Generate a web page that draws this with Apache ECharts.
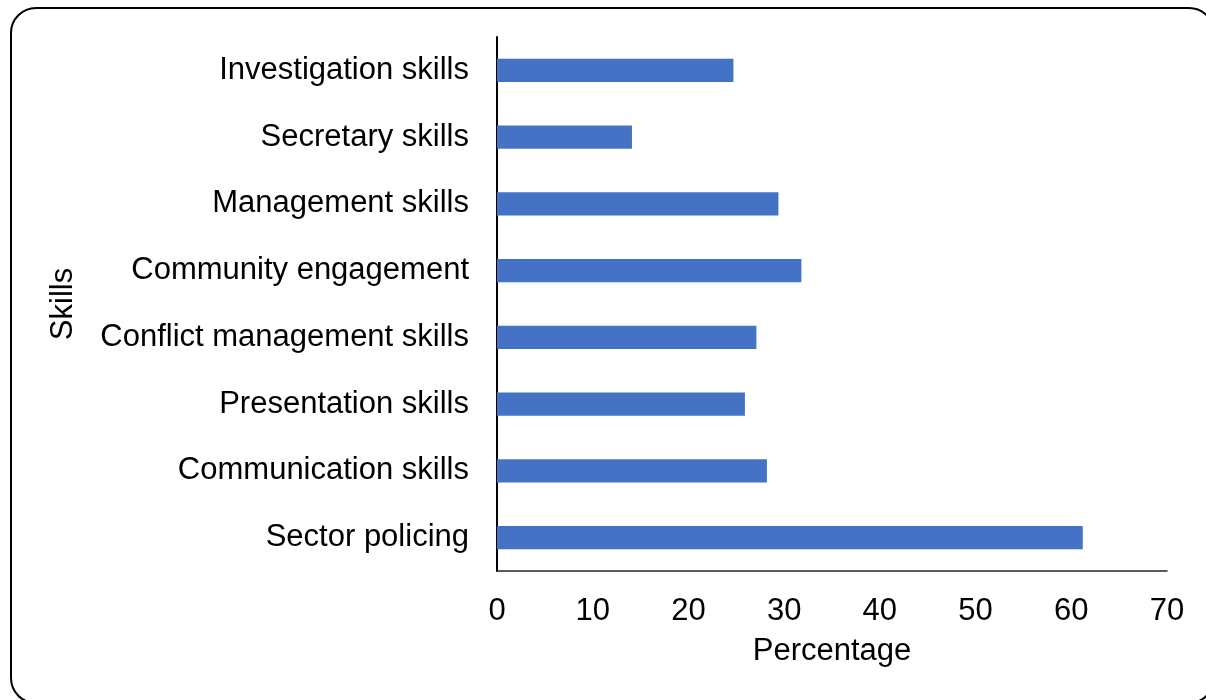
<!DOCTYPE html>
<html>
<head>
<meta charset="utf-8">
<script src="https://cdn.jsdelivr.net/npm/echarts@6/dist/echarts.min.js"></script>
<style>
  html, body { margin: 0; padding: 0; background: #ffffff; }
  #chart { width: 1206px; height: 700px; }
</style>
</head>
<body>
<div id="chart"></div>
<script>
// Skills listed top to bottom, with the percentage of respondents for each
const skills = [
  'Investigation skills',
  'Secretary skills',
  'Management skills',
  'Community engagement',
  'Conflict management skills',
  'Presentation skills',
  'Communication skills',
  'Sector policing'
];
const percentages = [24.7, 14.1, 29.4, 31.8, 27.1, 25.9, 28.2, 61.2];
const percentTicks = [0, 10, 20, 30, 40, 50, 60, 70];

const FONT = 'Liberation Sans, Arial, sans-serif';
const FONT_SIZE = 31;
const chart = echarts.init(document.getElementById('chart'), null, { renderer: 'canvas' });

chart.setOption({
  backgroundColor: '#ffffff',
  animation: false,
  // rounded frame around the whole chart area
  graphic: [{
    type: 'rect',
    shape: { x: 11, y: 8, width: 1203, height: 695, r: 25 },
    style: { fill: 'none', stroke: '#000000', lineWidth: 2 },
    silent: true
  }],
  grid: { left: 497, right: 39, top: 37, bottom: 129, containLabel: false },
  xAxis: {
    type: 'value',
    min: percentTicks[0],
    max: percentTicks[percentTicks.length - 1],
    interval: percentTicks[1] - percentTicks[0],
    name: 'Percentage',
    nameLocation: 'middle',
    nameGap: 65,
    nameTextStyle: { fontFamily: FONT, fontSize: FONT_SIZE, color: '#000000' },
    axisLine: { show: true, lineStyle: { color: '#262626', width: 1.5 } },
    axisTick: { show: false },
    splitLine: { show: false },
    axisLabel: { fontFamily: FONT, fontSize: FONT_SIZE, color: '#000000', margin: 25 }
  },
  yAxis: {
    type: 'category',
    data: skills,
    inverse: true,
    name: 'Skills',
    nameLocation: 'middle',
    nameGap: 418,
    nameTextStyle: { fontFamily: FONT, fontSize: FONT_SIZE, color: '#000000' },
    axisLine: { show: true, lineStyle: { color: '#000000', width: 2 } },
    axisTick: { show: false },
    splitLine: { show: false },
    axisLabel: { fontFamily: FONT, fontSize: FONT_SIZE, color: '#000000', margin: 28 }
  },
  series: [{
    type: 'bar',
    data: percentages,
    barCategoryGap: '65%',
    itemStyle: { color: '#4472C4' }
  }]
});
</script>
</body>
</html>
